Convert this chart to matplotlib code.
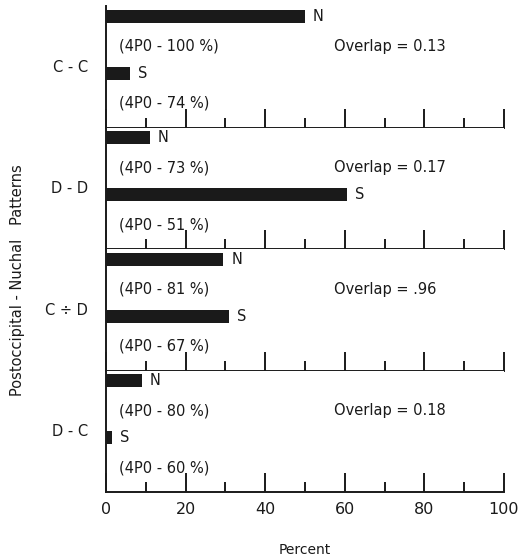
import matplotlib
matplotlib.use("Agg")
import matplotlib.pyplot as plt

patterns = ["C - C", "D - D", "C ÷ D", "D - C"]
n_values = [50, 11, 29.5, 9]
s_values = [6, 60.5, 31, 1.5]
n_notes = ["(4P0 - 100 %)", "(4P0 - 73 %)", "(4P0 - 81 %)", "(4P0 - 80 %)"]
s_notes = ["(4P0 - 74 %)", "(4P0 - 51 %)", "(4P0 - 67 %)", "(4P0 - 60 %)"]
overlaps = ["Overlap = 0.13", "Overlap = 0.17", "Overlap = .96", "Overlap = 0.18"]
x_ticks = [0, 20, 40, 60, 80, 100]

plt.rcParams['font.family'] = ['DejaVu Sans']

fig = plt.figure(figsize=(5.26, 5.59), dpi=100)
left, right = 106 / 526, 504 / 526
top_px, bottom_px = 6, 492
panel_h = (bottom_px - top_px) / 4
ink = "#1a1a1a"

for i, pat in enumerate(patterns):
    y0 = 559 - (top_px + (i + 1) * panel_h)
    ax = fig.add_axes([left, y0 / 559, right - left, panel_h / 559])
    ax.set_xlim(0, 100)
    ax.set_ylim(0, 121)
    ax.barh([111], [n_values[i]], height=13, left=0, color=ink)
    ax.barh([54], [s_values[i]], height=13, left=0, color=ink)
    ax.text(n_values[i] + 2, 111, "N", va="center", ha="left", fontsize=10.5, color=ink)
    ax.text(s_values[i] + 2, 54, "S", va="center", ha="left", fontsize=10.5, color=ink)
    ax.text(3.3, 81, n_notes[i], va="center", ha="left", fontsize=10.5, color=ink)
    ax.text(3.3, 24, s_notes[i], va="center", ha="left", fontsize=10.5, color=ink)
    ax.text(57.3, 81, overlaps[i], va="center", ha="left", fontsize=10.5, color=ink)
    ax.text(-4.5, 60, pat, va="center", ha="right", fontsize=10.5, color=ink)
    for side in ["top", "right"]:
        ax.spines[side].set_visible(False)
    for side in ["bottom", "left"]:
        ax.spines[side].set_linewidth(1.4)
        ax.spines[side].set_color(ink)
    ax.set_xticks(x_ticks)
    ax.set_xticks([10, 30, 50, 70, 90], minor=True)
    ax.tick_params(axis="x", which="major", direction="in", length=14, width=1.4, color=ink)
    ax.tick_params(axis="x", which="minor", direction="in", length=7, width=1.4, color=ink)
    ax.set_yticks([])
    if i < 3:
        ax.tick_params(axis="x", labelbottom=False)
    else:
        ax.set_xticklabels([str(t) for t in x_ticks], fontsize=11.5, color=ink)
        ax.tick_params(axis="x", which="major", pad=7)
        ax.set_xlabel("Percent", fontsize=10, color=ink, labelpad=19)

fig.text(18 / 526, 1 - 280 / 559, "Postoccipital - Nuchal   Patterns", rotation=90,
         va="center", ha="center", fontsize=10.5, color=ink)

fig.savefig("out.png", dpi=100, facecolor="white")
